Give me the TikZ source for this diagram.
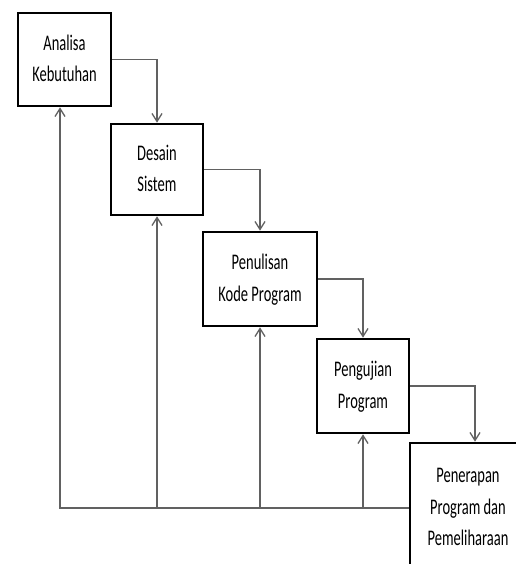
\documentclass[tikz,border=0pt]{standalone}
\usepackage{fontspec}
\usepackage{graphicx}
\setmainfont{Carlito}
\usetikzlibrary{arrows.meta,positioning,calc}

\newcommand{\teks}[1]{\scalebox{0.91}[1.4]{\fontsize{16}{22.6}\selectfont
  \begin{tabular}{@{}c@{}}#1\end{tabular}}}

\tikzset{
  tahap/.style={draw=black,line width=2.6bp,fill=white,inner sep=0pt},
  alur/.style={draw=black!62,line width=1.3bp,-{Straight Barb[length=8bp,width=10bp]}}
}

\begin{document}
\begin{tikzpicture}[x=1bp,y=-1bp]
\useasboundingbox (0,0) rectangle (516,564);
\node[tahap,minimum width=93bp,minimum height=93bp] (analisa) at (64.5,59.5) {\teks{Analisa\\Kebutuhan}};
\node[tahap,minimum width=92bp,minimum height=91bp] (desain) at (157,169.5) {\teks{Desain\\Sistem}};
\node[tahap,minimum width=114bp,minimum height=94bp] (kode) at (260,279) {\teks{Penulisan\\Kode Program}};
\node[tahap,minimum width=92bp,minimum height=94bp] (uji) at (363,386) {\teks{Pengujian\\Program}};
\node[tahap,minimum width=130bp,minimum height=130bp] (terap) at (475,508)
  {\hspace{-14bp}\teks{Penerapan\\Program dan\\Pemeliharaan}};
\coordinate (balik) at (0,508);
% alur maju
\draw[alur] (analisa.east) -| (desain.north);
\draw[alur] (desain.east) -| (kode.north);
\draw[alur] (kode.east) -| (uji.north);
\draw[alur] (uji.east) -| (terap.north);
% alur balik
\draw[alur] (balik -| terap.west) -| ([xshift=-4.5bp]analisa.south);
\draw[alur] (balik -| desain.south) -- (desain.south);
\draw[alur] (balik -| kode.south) -- (kode.south);
\draw[alur] (balik -| uji.south) -- (uji.south);
\end{tikzpicture}
\end{document}
